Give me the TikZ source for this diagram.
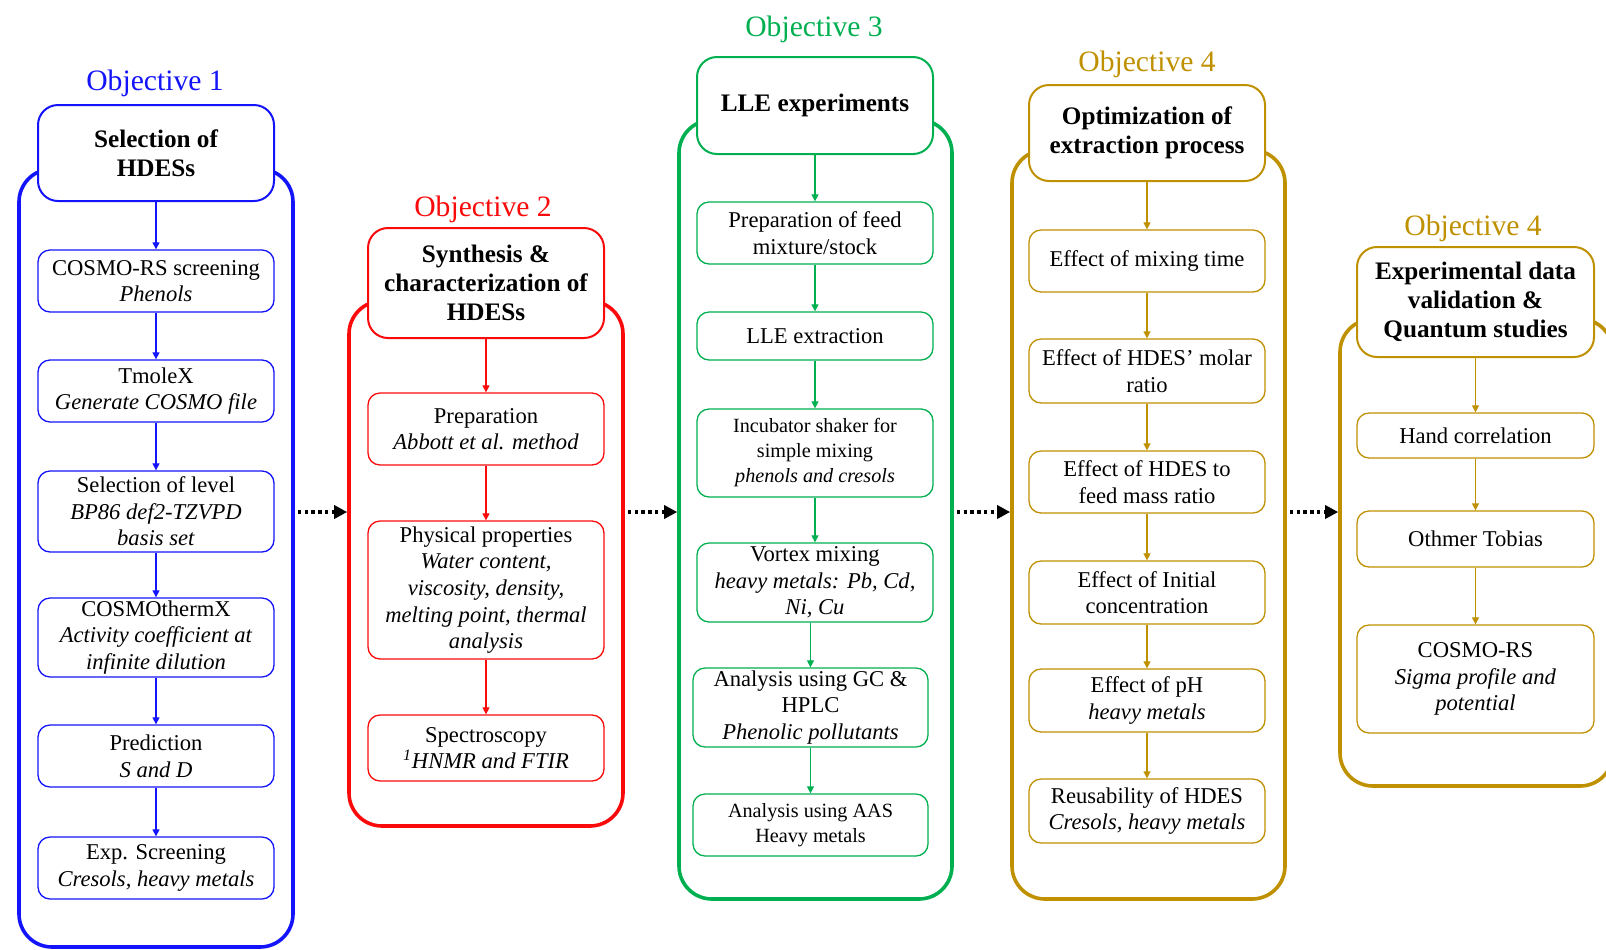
\documentclass[tikz,border=0pt]{standalone}
\usepackage{fontspec}
\setmainfont{Liberation Serif}
\usetikzlibrary{arrows.meta}
\definecolor{cblue}{RGB}{20,20,250}
\definecolor{cred}{RGB}{250,10,10}
\definecolor{cgreen}{RGB}{0,176,80}
\definecolor{cgold}{RGB}{191,144,0}
\begin{document}
\begin{tikzpicture}[x=0.5pt,y=-0.5pt,
  outerbox/.style={draw=#1, line width=1.8pt, rounded corners=16.5pt, inner sep=0pt},
  headbox/.style={draw=#1, fill=white, line width=1pt, rounded corners=10pt, align=center, font=\fontsize{12.6}{14.5}\selectfont\bfseries, inner sep=0pt, minimum width=118pt},
  ibox/.style={draw=#1, fill=white, line width=0.65pt, rounded corners=6pt, align=center, font=\fontsize{11.3}{13.3}\selectfont, inner sep=0pt, minimum width=118pt},
  sbox/.style={ibox=#1, font=\fontsize{10.1}{12.5}\selectfont},
  objlabel/.style={text=#1, font=\fontsize{14.8}{17}\selectfont, inner sep=0pt},
  flow/.style={draw=#1, line width=0.6pt, -{Triangle[length=3.5pt,width=3.5pt]}},
  dotarrow/.style={draw=black, line width=1.7pt, dash pattern=on 1.7pt off 1.7pt, -{Triangle[length=6.5pt,width=6.5pt]}}
]
\useasboundingbox (0,0) rectangle (1606,949);
\clip (0,0) rectangle (1606,949);

% outer containers
\node[outerbox=cblue,  minimum width=137pt,   minimum height=389pt]   (o1) at (156,558) {};
\node[outerbox=cred,   minimum width=137pt,   minimum height=262.5pt] (o2) at (486,563.5) {};
\node[outerbox=cgreen, minimum width=136.5pt, minimum height=389.5pt] (o3) at (815.5,509.5) {};
\node[outerbox=cgold,  minimum width=136.5pt, minimum height=374.5pt] (o4) at (1148.5,524.5) {};
\node[outerbox=cgold,  minimum width=136.5pt, minimum height=233.5pt] (o5) at (1476.5,552.5) {};

% labels
\node[objlabel=cblue]  (L1) at (155,83)   {Objective 1};
\node[objlabel=cred]   (L2) at (483,209)  {Objective 2};
\node[objlabel=cgreen] (L3) at (814,29)   {Objective 3};
\node[objlabel=cgold]  (L4) at (1147,64)  {Objective 4};
\node[objlabel=cgold]  (L5) at (1473,228) {Objective 4};

% column 1
\node[headbox=cblue, minimum height=48pt] (h1) at (156,153) {Selection of\\HDESs};
\node[ibox=cblue, minimum height=31pt]   (b1) at (156,281)   {COSMO-RS screening\\\textit{Phenols}};
\node[ibox=cblue, minimum height=31pt]   (b2) at (156,391)   {TmoleX\\\textit{Generate COSMO file}};
\node[ibox=cblue, minimum height=40.5pt] (b3) at (156,511.5) {Selection of level\\\textit{BP86 def2-TZVPD}\\\textit{basis set}};
\node[ibox=cblue, minimum height=39.5pt] (b4) at (156,637.5) {COSMOthermX\\\textit{Activity coefficient at}\\\textit{infinite dilution}};
\node[ibox=cblue, minimum height=31pt]   (b5) at (156,756)   {Prediction\\\textit{S and D}};
\node[ibox=cblue, minimum height=31pt]   (b6) at (156,868)   {Exp. Screening\\\textit{Cresols, heavy metals}};

% column 2
\node[headbox=cred, minimum height=55pt] (h2) at (486,283) {Synthesis \&\\characterization of\\HDESs};
\node[ibox=cred, minimum height=36pt] (c1) at (486,429) {Preparation\\\textit{Abbott et al. method}};
\node[ibox=cred, minimum height=69pt] (c2) at (486,590) {Physical properties\\\textit{Water content,}\\\textit{viscosity, density,}\\\textit{melting point, thermal}\\\textit{analysis}};
\node[ibox=cred, minimum height=33pt] (c3) at (486,748) {Spectroscopy\\\textit{\textsuperscript{1}HNMR and FTIR}};

% column 3
\node[headbox=cgreen, minimum height=48.5pt] (h3) at (815,105.5) {LLE experiments};
\node[ibox=cgreen, minimum height=31pt]   (d1) at (815,233)   {Preparation of feed\\mixture/stock};
\node[ibox=cgreen, minimum height=24pt]   (d2) at (815,336)   {LLE extraction};
\node[sbox=cgreen, minimum height=44pt]   (d3) at (815,453)   {Incubator shaker for\\simple mixing\\\textit{phenols and cresols}};
\node[ibox=cgreen, minimum height=39.5pt] (d4) at (815,582.5) {Vortex mixing\\\textit{heavy metals: Pb, Cd,}\\\textit{Ni, Cu}};
\node[ibox=cgreen, minimum width=117.5pt, minimum height=39.5pt] (d5) at (810.5,707.5) {Analysis using GC \&\\HPLC\\\textit{Phenolic pollutants}};
\node[sbox=cgreen, minimum width=117.5pt, minimum height=31pt]   (d6) at (810.5,825)   {Analysis using AAS\\Heavy metals};

% column 4
\node[headbox=cgold, minimum height=48pt] (h4) at (1147,133) {Optimization of\\extraction process};
\node[ibox=cgold, minimum height=31pt]   (e1) at (1147,261)   {Effect of mixing time};
\node[ibox=cgold, minimum height=32pt]   (e2) at (1147,371)   {Effect of HDES’ molar\\ratio};
\node[ibox=cgold, minimum height=31pt]   (e3) at (1147,482)   {Effect of HDES to\\feed mass ratio};
\node[ibox=cgold, minimum height=31.5pt] (e4) at (1147,592.5) {Effect of Initial\\concentration};
\node[ibox=cgold, minimum height=31.5pt] (e5) at (1147,700.5) {Effect of pH\\\textit{heavy metals}};
\node[ibox=cgold, minimum height=32pt]   (e6) at (1147,811)   {Reusability of HDES\\\textit{Cresols, heavy metals}};

% column 5
\node[headbox=cgold, minimum width=118.5pt, minimum height=55pt] (h5) at (1475.5,302) {Experimental data\\validation \&\\Quantum studies};
\node[ibox=cgold, minimum width=118.5pt, minimum height=22.5pt] (f1) at (1475.5,435.5) {Hand correlation};
\node[ibox=cgold, minimum width=118.5pt, minimum height=28pt]   (f2) at (1475.5,539)   {Othmer Tobias};
\node[ibox=cgold, minimum width=118.5pt, minimum height=54pt]   (f3) at (1475.5,679)   {COSMO-RS\\\textit{Sigma profile and}\\\textit{potential}};

% inner flows
\foreach \a/\b in {h1/b1,b1/b2,b2/b3,b3/b4,b4/b5,b5/b6}
  \draw[flow=cblue] (\a) -- (\b);
\foreach \a/\b in {h2/c1,c1/c2,c2/c3}
  \draw[flow=cred] (\a) -- (\b);
\foreach \a/\b in {h3/d1,d1/d2,d2/d3,d3/d4}
  \draw[flow=cgreen] (\a) -- (\b);
\draw[flow=cgreen] (d4.south -| d5.north) -- (d5.north);
\draw[flow=cgreen] (d5) -- (d6);
\foreach \a/\b in {h4/e1,e1/e2,e2/e3,e3/e4,e4/e5,e5/e6}
  \draw[flow=cgold] (\a) -- (\b);
\foreach \a/\b in {h5/f1,f1/f2,f2/f3}
  \draw[flow=cgold] (\a) -- (\b);

% dotted connectors
\coordinate (m) at (0,512);
\draw[dotarrow, shorten <=1.5pt] (o1.east |- m) -- (o2.west |- m);
\draw[dotarrow, shorten <=1.5pt] (o2.east |- m) -- (o3.west |- m);
\draw[dotarrow, shorten <=1.5pt] (o3.east |- m) -- (o4.west |- m);
\draw[dotarrow, shorten <=1.5pt] (o4.east |- m) -- (o5.west |- m);
\end{tikzpicture}
\end{document}
